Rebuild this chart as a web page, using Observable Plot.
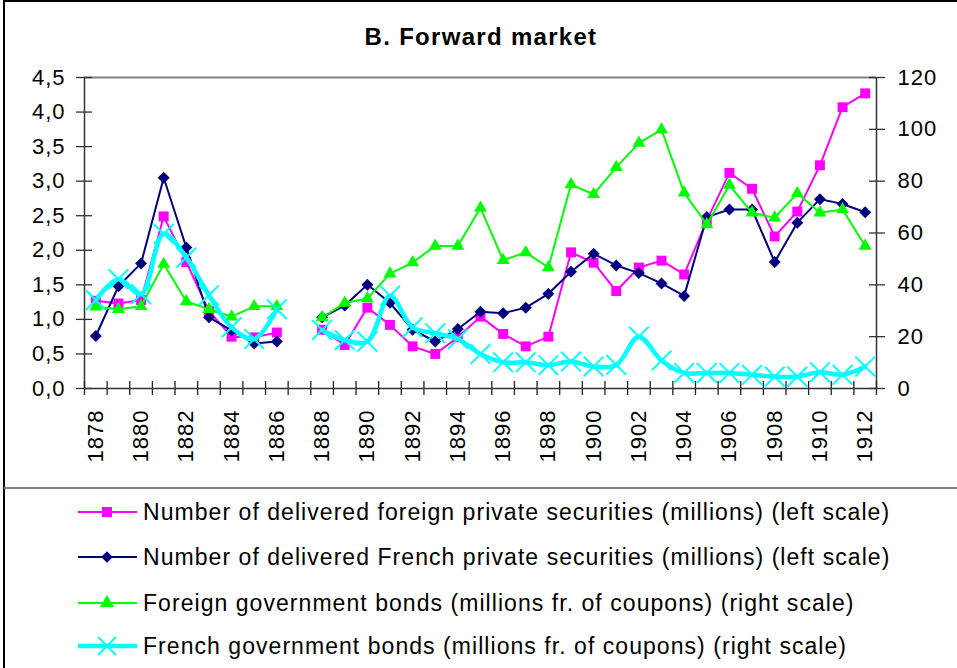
<!DOCTYPE html>
<html><head><meta charset="utf-8">
<script src="https://cdn.jsdelivr.net/npm/d3@7"></script>
<script src="https://cdn.jsdelivr.net/npm/@observablehq/plot@0.6"></script>
<style>
html,body{margin:0;padding:0;background:#fff;}
body{width:957px;height:668px;overflow:hidden;position:relative;font-family:"Liberation Sans",Arial,sans-serif;color:#000;}
#frame{position:absolute;left:3px;top:0;width:980px;height:700px;border:2px solid #000;box-sizing:border-box;}
#title{position:absolute;left:0;width:962px;top:23px;text-align:center;font-weight:bold;font-size:24px;letter-spacing:1.3px;line-height:28px;}
#chart{position:absolute;left:0;top:0;}
#chart svg text{letter-spacing:1px;}
#sep{position:absolute;left:4px;top:487px;width:960px;height:2px;background:#808080;}
.leg{position:absolute;left:78px;height:30px;display:flex;align-items:center;font-size:23px;letter-spacing:1.05px;white-space:nowrap;}
.leg svg{margin-right:5px;}
</style>
</head><body>
<div id="frame"></div>
<div id="chart"></div>
<div id="title">B. Forward market</div>
<div id="sep"></div>
<div id="legend"></div>
<script>
const years = d3.range(1878, 1913);
const foreignPrivate = [1.27,1.23,1.28,2.49,1.83,1.12,0.75,0.74,0.81,null,0.85,0.63,1.17,0.92,0.61,0.50,0.74,1.04,0.79,0.61,0.75,1.97,1.82,1.41,1.75,1.85,1.65,2.43,3.12,2.89,2.20,2.56,3.23,4.07,4.27];
const frenchPrivate = [0.76,1.48,1.81,3.05,2.04,1.03,0.84,0.65,0.68,null,1.03,1.20,1.50,1.24,0.85,0.68,0.86,1.11,1.09,1.17,1.37,1.69,1.95,1.78,1.67,1.52,1.34,2.48,2.59,2.59,1.83,2.40,2.74,2.67,2.55];
const foreignGov = [31.5,30.6,31.7,48,33.6,30.6,27.7,31.7,31.7,null,27.4,33,34.7,44.3,48.6,55,55,69.7,49.5,52.5,46.7,78.7,74.9,85.4,94.7,99.9,75.5,63.3,78.5,67.8,65.9,75.3,67.8,69.1,55];
const frenchGov = [34.1,42.2,36.4,59.7,50.5,36,23.6,19.1,30.6,null,22.6,18.7,18.1,35.8,23.6,21.3,19.1,13.3,10.1,10.1,9,10.4,8.5,9.1,20,10.8,6,6,6,5.3,4.6,4.6,6.3,5.3,8.5];
const leftTicks = [0,0.5,1,1.5,2,2.5,3,3.5,4,4.5];
const rightTicks = [0,20,40,60,80,100,120];
const xLabels = d3.range(1878, 1913, 2);
const seriesNames = [
  "Number of delivered foreign private securities (millions) (left scale)",
  "Number of delivered French private securities (millions) (left scale)",
  "Foreign government bonds (millions fr. of coupons) (right scale)",
  "French government bonds (millions fr. of coupons) (right scale)"
];
const colors = ["#FF00FF","#000080","#00FF00","#00FFFF"];

const k = 4.5 / 120; // right scale -> left scale
const sc = v => v == null ? null : v * k;
const rows = years.map((year, i) => ({
  year,
  fp: foreignPrivate[i],
  frp: frenchPrivate[i],
  fg: sc(foreignGov[i]),
  frg: sc(frenchGov[i])
}));
const bounds = [years[0] - 0.5, years[years.length - 1] + 0.5];
const halfTicks = d3.range(years.length + 1).map(i => bounds[0] + i);
const blank = () => "";

const plot = Plot.plot({
  width: 957, height: 488,
  marginLeft: 84, marginRight: 81, marginTop: 77, marginBottom: 100,
  x: {domain: bounds, label: null},
  y: {domain: [0, 4.5], label: null},
  style: {fontFamily: "'Liberation Sans', Arial, sans-serif", fontSize: "22px", color: "#000", background: "transparent", overflow: "visible"},
  marks: [
    Plot.ruleY([4.5], {stroke: "#808080", strokeWidth: 2}),
    Plot.ruleX([bounds[0]], {stroke: "#333", strokeWidth: 1.5}),
    Plot.ruleX([bounds[1]], {stroke: "#333", strokeWidth: 1.5}),
    Plot.axisY(leftTicks, {anchor: "left", label: null, tickSize: 16, dx: 8, stroke: "#333", strokeWidth: 1.3, tickFormat: blank}),
    Plot.axisY(leftTicks, {anchor: "left", label: null, tickSize: 0, tickPadding: 19, fill: "#000", fontSize: 22, tickFormat: d => d.toFixed(1).replace(".", ",")}),
    Plot.axisY(rightTicks.map(sc), {anchor: "right", label: null, tickSize: 16, dx: -8, stroke: "#333", strokeWidth: 1.3, tickFormat: blank}),
    Plot.axisY(rightTicks.map(sc), {anchor: "right", label: null, tickSize: 0, tickPadding: 21, fill: "#000", fontSize: 22, tickFormat: d => String(Math.round(d / k))}),
    Plot.axisX(halfTicks, {anchor: "bottom", label: null, tickSize: 14, dy: -7, stroke: "#222", strokeWidth: 1.3, tickFormat: blank}),
    Plot.axisX(xLabels, {anchor: "bottom", label: null, tickSize: 0, tickPadding: 21, tickRotate: -90, fill: "#000", fontSize: 22, tickFormat: d => String(d)}),
    Plot.line(rows, {x: "year", y: "fp", stroke: colors[0], strokeWidth: 2}),
    Plot.dot(rows, {x: "year", y: "fp", symbol: "square", fill: colors[0], r: 5.6}),
    Plot.line(rows, {x: "year", y: "frp", stroke: colors[1], strokeWidth: 2}),
    Plot.dot(rows, {x: "year", y: "frp", symbol: "diamond2", fill: colors[1], stroke: "none", r: 5.4}),
    Plot.line(rows, {x: "year", y: "fg", stroke: colors[2], strokeWidth: 2}),
    Plot.dot(rows, {x: "year", y: "fg", symbol: "triangle", fill: colors[2], r: 4.8}),
    Plot.line(rows, {x: "year", y: "frg", stroke: colors[3], strokeWidth: 4.5, curve: "catmull-rom"}),
    Plot.dot(rows, {x: "year", y: "frg", symbol: "times", stroke: colors[3], strokeWidth: 2, r: 9}),
    Plot.ruleY([0], {stroke: "#333", strokeWidth: 1.5})
  ]
});
document.getElementById("chart").appendChild(plot);

// legend
const symbols = [d3.symbolSquare, d3.symbolDiamond2, d3.symbolTriangle, d3.symbolTimes];
const symSizes = [100, 87, 85, 211];
const legendTops = [497, 542, 588, 631];
const legend = d3.select("#legend");
seriesNames.forEach((name, i) => {
  const row = legend.append("div").attr("class", "leg").style("top", legendTops[i] + "px");
  const svg = row.append("svg").attr("width", 60).attr("height", 30);
  svg.append("line").attr("x1", 0).attr("x2", 59).attr("y1", 15).attr("y2", 15)
    .attr("stroke", colors[i]).attr("stroke-width", i === 3 ? 4.5 : 2);
  const p = svg.append("path").attr("transform", "translate(29,15)")
    .attr("d", d3.symbol(symbols[i], symSizes[i])());
  if (i === 3) p.attr("fill", "none").attr("stroke", colors[i]).attr("stroke-width", 2);
  else p.attr("fill", colors[i]);
  row.append("span").text(name);
});
</script>
</body></html>
